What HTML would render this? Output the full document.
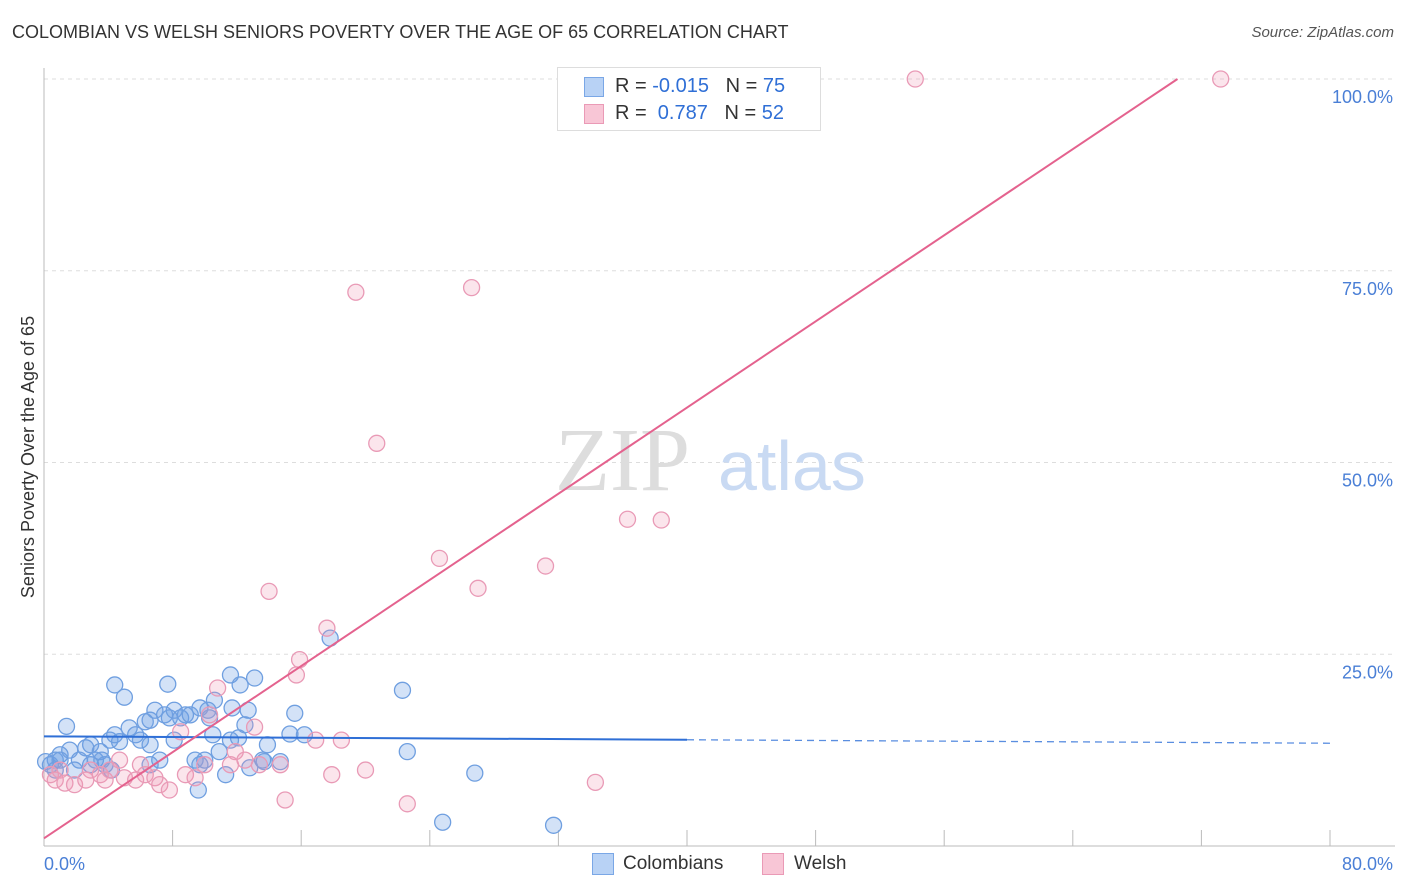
<!DOCTYPE html>
<html><head><meta charset="utf-8"><style>
body{margin:0;background:#fff;font-family:"Liberation Sans",sans-serif;}
#wrap{position:relative;width:1406px;height:892px;overflow:hidden;}
.t{position:absolute;white-space:nowrap;}
</style></head><body>
<div id="wrap">
<div class="t" style="left:12px;top:22px;font-size:18px;color:#333;">COLOMBIAN VS WELSH SENIORS POVERTY OVER THE AGE OF 65 CORRELATION CHART</div>
<div class="t" style="right:12px;top:24px;font-size:15px;color:#555;font-style:italic;">Source: ZipAtlas.com</div>
<svg id="svg" width="1406" height="892" style="position:absolute;left:0;top:0"></svg>
</div>
<script>
const xTickVals=[0,8,16,24,32,40,48,56,64,72,80];
const yTickVals=[25,50,75,100];
const yTickLabels=["25.0%","50.0%","75.0%","100.0%"];
const blueX=[1.4,0.4,0.7,1.0,1.6,2.2,2.9,3.2,3.5,3.8,4.1,4.4,4.7,5.0,4.4,5.3,5.7,6.0,6.3,6.6,6.9,7.2,7.5,7.7,7.8,8.1,8.5,8.8,9.1,9.4,9.6,9.7,10.0,10.3,10.5,10.6,10.9,11.3,11.6,11.7,12.1,12.2,12.5,12.7,12.8,13.1,13.6,13.9,14.7,15.3,15.6,16.2,17.8,22.3,22.6,24.8,26.8,31.7,1.0,2.6,1.9,3.6,6.6,8.1,10.2,9.7,11.6,13.7,0.7,0.1,2.9,4.2,6.6];
const blueY=[15.6,10.6,11.2,11.9,12.5,11.2,13.2,11.2,12.3,10.6,13.8,14.5,13.6,19.4,21.0,15.4,14.5,13.8,16.2,16.4,17.7,11.2,17.1,21.1,16.7,17.7,16.7,17.1,17.1,11.2,7.3,18.0,11.2,16.7,14.5,19.0,12.3,9.3,22.3,18.0,14.1,21.0,15.8,17.7,10.2,21.9,11.2,13.2,11.0,14.6,17.3,14.5,27.1,20.3,12.3,3.1,9.5,2.7,11.2,12.8,9.9,11.2,13.2,13.8,17.7,10.6,13.8,11.0,9.9,11.0,10.6,9.9,10.6];
const pinkX=[33.2,54.2,73.2,19.4,26.6,20.7,36.3,38.4,24.6,31.2,27.0,14.0,17.6,15.9,15.7,10.8,10.3,13.1,16.9,18.5,11.9,12.5,13.4,14.7,20.0,17.9,15.0,22.6,34.3,8.5,0.7,1.3,1.9,2.6,3.5,4.1,5.0,5.7,6.3,6.9,7.2,7.8,8.8,9.4,10.0,4.7,1.0,11.6,6.0,2.9,0.4,3.8];
const pinkY=[100,100,100,72.2,72.8,52.5,42.6,42.5,37.5,36.5,33.6,33.2,28.4,24.3,22.3,20.6,17.1,15.5,13.8,13.8,12.3,11.2,10.6,10.6,9.9,9.3,6.0,5.5,8.3,14.9,8.6,8.2,8.0,8.6,9.3,9.9,8.9,8.6,9.3,8.9,8.0,7.3,9.3,8.9,10.6,11.2,9.9,10.6,10.6,9.9,9.3,8.6];
const blueLine=[14.3,13.4];
const pinkLine=[1.0,1.404];
const NS="http://www.w3.org/2000/svg";
const svg=document.getElementById('svg');
const X=v=>44+v*16.075, Y=v=>846-v*7.67;
function mk(t,a){const e=document.createElementNS(NS,t);for(const k in a)e.setAttribute(k,a[k]);svg.appendChild(e);return e;}
yTickVals.forEach((v,i)=>{
 const g=mk('line',{x1:44,x2:1395,y1:Y(v),y2:Y(v),stroke:'#ddd','stroke-dasharray':'4,4'});
 
 
 const t=mk('text',{x:1393,y:Y(v)+24,'text-anchor':'end','font-size':18,fill:'#4a7fd6'});
 t.textContent=yTickLabels[i];
 
 
});
let a=mk('line',{x1:44,x2:44,y1:68,y2:846,stroke:'#bbb'});


a=mk('line',{x1:44,x2:1395,y1:846,y2:846,stroke:'#bbb'});


xTickVals.forEach(v=>{
 const l=mk('line',{x1:X(v),x2:X(v),y1:830,y2:846,stroke:'#bbb'});
 
 
});
let t=mk('text',{x:44,y:870,'font-size':18,fill:'#4a7fd6'});t.textContent='0.0%';


t=mk('text',{x:1393,y:870,'text-anchor':'end','font-size':18,fill:'#4a7fd6'});t.textContent='80.0%';


t=mk('text',{x:34,y:457,'text-anchor':'middle','font-size':18,fill:'#333',transform:'rotate(-90 34 457)'});t.textContent='Seniors Poverty Over the Age of 65';


t=mk('text',{x:555,y:490,'font-size':90,fill:'#ddd','font-family':'Liberation Serif'});t.textContent='ZIP';


t=mk('text',{x:718,y:490,'font-size':70,fill:'#c9daf3'});t.textContent='atlas';


blueX.forEach((x,i)=>{
 const c=mk('circle',{cx:X(x),cy:Y(blueY[i]),r:8,fill:'rgba(110,160,230,0.3)',stroke:'#6f9fe0','stroke-width':1.3});
 
 
});
pinkX.forEach((x,i)=>{
 const c=mk('circle',{cx:X(x),cy:Y(pinkY[i]),r:8,fill:'rgba(240,150,180,0.25)',stroke:'#e99ab6','stroke-width':1.3});
 
 
});
const bAt=x=>blueLine[0]+(blueLine[1]-blueLine[0])*x/80;
let l=mk('line',{x1:X(0),y1:Y(bAt(0)),x2:X(40),y2:Y(bAt(40)),stroke:'#2f6fd6','stroke-width':2});


l=mk('line',{x1:X(40),y1:Y(bAt(40)),x2:X(80),y2:Y(bAt(80)),stroke:'#5a8ee0','stroke-width':1.3,'stroke-dasharray':'7,5'});


const pEnd=(100-pinkLine[0])/pinkLine[1];
l=mk('line',{x1:X(0),y1:Y(pinkLine[0]),x2:X(pEnd),y2:Y(100),stroke:'#e4628e','stroke-width':2});


</script>
<div style="position:absolute;left:557px;top:67px;width:262px;height:62px;border:1px solid #ddd;background:#fff;font-size:20px;color:#333;">
 <div style="position:absolute;left:26px;top:9px;width:18px;height:18px;background:#b8d2f5;border:1px solid #7aa7e6;"></div>
 <div class="t" style="left:57px;top:7px;">R = <span style="color:#2f6fd6">-0.015</span>&nbsp;&nbsp;&nbsp;N = <span style="color:#2f6fd6">75</span></div>
 <div style="position:absolute;left:26px;top:36px;width:18px;height:18px;background:#f8c6d6;border:1px solid #ea9ab6;"></div>
 <div class="t" style="left:57px;top:34px;">R = &nbsp;<span style="color:#2f6fd6">0.787</span>&nbsp;&nbsp;&nbsp;N = <span style="color:#2f6fd6">52</span></div>
</div>
<div style="position:absolute;left:592px;top:853px;width:20px;height:20px;background:#b8d2f5;border:1px solid #7aa7e6;"></div>
<div class="t" style="left:623px;top:853px;font-size:19px;color:#333;">Colombians</div>
<div style="position:absolute;left:762px;top:853px;width:20px;height:20px;background:#f8c6d6;border:1px solid #ea9ab6;"></div>
<div class="t" style="left:794px;top:853px;font-size:19px;color:#333;">Welsh</div>
</body></html>
